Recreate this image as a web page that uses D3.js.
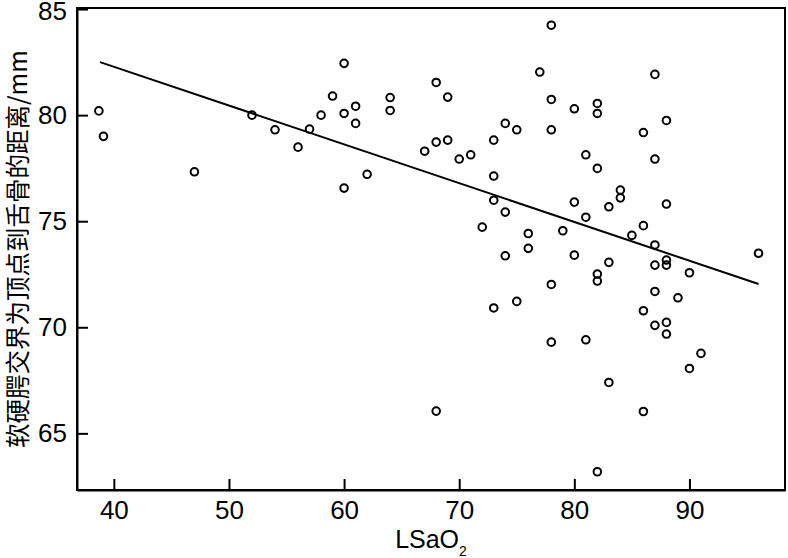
<!DOCTYPE html>
<html>
<head>
<meta charset="utf-8">
<script src="https://cdn.jsdelivr.net/npm/d3@7"></script>
<style>
  body { margin: 0; background: #fff; }
  svg text { font-family: "Liberation Sans", Arial, sans-serif; fill: #000; }
</style>
</head>
<body>
<svg width="788" height="558"></svg>
<script>
// scatter values
var lsao2 = [38.7, 39.1, 47, 52, 54, 56, 57, 58, 59, 60, 60, 60, 61, 61, 62, 64, 64,
  68, 69, 78, 77, 87, 78, 80, 82, 82, 88, 74, 75, 78, 86, 67, 68, 69, 73, 70, 71, 81,
  82, 87, 73, 84, 84, 80, 88, 73, 74, 81, 83, 72, 79, 76, 86, 85, 87, 76, 74, 80, 96,
  83, 88, 88, 87, 90, 82, 82, 78, 73, 75, 87, 89, 86, 87, 88, 88, 78, 81, 91, 90, 83,
  68, 86, 82];
var dist = [80.2, 79.0, 77.33, 80.0, 79.31, 78.49, 79.34, 80.0, 80.9, 82.44, 80.08, 76.56,
  80.42, 79.61, 77.21, 80.83, 80.22, 81.54, 80.85, 84.24, 82.03, 81.92, 80.74, 80.3,
  80.55, 80.08, 79.75, 79.61, 79.31, 79.31, 79.18, 78.3, 78.73, 78.82, 78.82, 77.93,
  78.13, 78.13, 77.49, 77.93, 77.13, 76.47, 76.1, 75.9, 75.81, 75.99, 75.43, 75.19,
  75.68, 74.72, 74.55, 74.42, 74.79, 74.33, 73.88, 73.72, 73.37, 73.4, 73.49, 73.06,
  73.17, 72.93, 72.93, 72.57, 72.51, 72.18, 72.02, 70.91, 71.22, 71.69, 71.39, 70.78,
  70.09, 70.23, 69.68, 69.3, 69.41, 68.77, 68.06, 67.4, 66.05, 66.03, 63.19];

// fitted line ends
var fitX = [38.8, 96];
var fitY = [82.5, 72.04];

var xTicks = [40, 50, 60, 70, 80, 90];
var yTicks = [65, 70, 75, 80, 85];

var L = 77, R = 785, T = 8, B = 490;

var svg = d3.select('svg');

var x = d3.scaleLinear().domain([36.8, 98.3]).range([L, R]);
var y = d3.scaleLinear().domain([62.33, 85.05]).range([B, T]);

// frame
svg.append('rect')
  .attr('x', L).attr('y', T)
  .attr('width', R - L).attr('height', B - T)
  .attr('fill', 'none').attr('stroke', '#000').attr('stroke-width', 2);

// axes, ticks point inward
var xAxis = svg.append('g')
  .attr('transform', 'translate(0,' + B + ')')
  .call(d3.axisBottom(x).tickValues(xTicks).tickSize(-11).tickSizeOuter(0).tickPadding(11));
var yAxis = svg.append('g')
  .attr('transform', 'translate(' + L + ',0)')
  .call(d3.axisLeft(y).tickValues(yTicks).tickSize(-11).tickSizeOuter(0).tickPadding(10));

[xAxis, yAxis].forEach(function(g) {
  g.select('.domain').attr('stroke-width', 2);
  g.selectAll('.tick line').attr('stroke-width', 2);
  g.selectAll('.tick text')
    .style('font-family', '"Liberation Sans", Arial, sans-serif')
    .style('font-size', '26px');
});
// top label sits against the edge, nudge it down a bit
yAxis.selectAll('.tick text').filter(function(d) { return d === 85; }).attr('dy', '0.4em');

// regression line
svg.append('line')
  .attr('x1', x(fitX[0])).attr('y1', y(fitY[0]))
  .attr('x2', x(fitX[1])).attr('y2', y(fitY[1]))
  .attr('stroke', '#000').attr('stroke-width', 2);

// points
svg.selectAll('circle.pt')
  .data(lsao2)
  .enter()
  .append('circle')
  .attr('class', 'pt')
  .attr('cx', function(d) { return x(d); })
  .attr('cy', function(d, i) { return y(dist[i]); })
  .attr('r', 3.8)
  .attr('fill', 'none')
  .attr('stroke', '#000')
  .attr('stroke-width', 2);

// x title
var xt = svg.append('text')
  .attr('x', (L + R) / 2)
  .attr('y', 548)
  .attr('text-anchor', 'middle')
  .style('font-size', '25px');
xt.append('tspan').text('LSaO');
xt.append('tspan').attr('dy', 8).style('font-size', '14px').text('2');

// y title
svg.append('text')
  .attr('transform', 'translate(27,' + ((T + B) / 2) + ') rotate(-90)')
  .attr('text-anchor', 'middle')
  .style('font-family', '"Noto Sans CJK SC", "Liberation Sans", sans-serif')
  .style('font-size', '24.5px')
  .text('软硬腭交界为顶点到舌骨的距离/mm');
</script>
</body>
</html>
